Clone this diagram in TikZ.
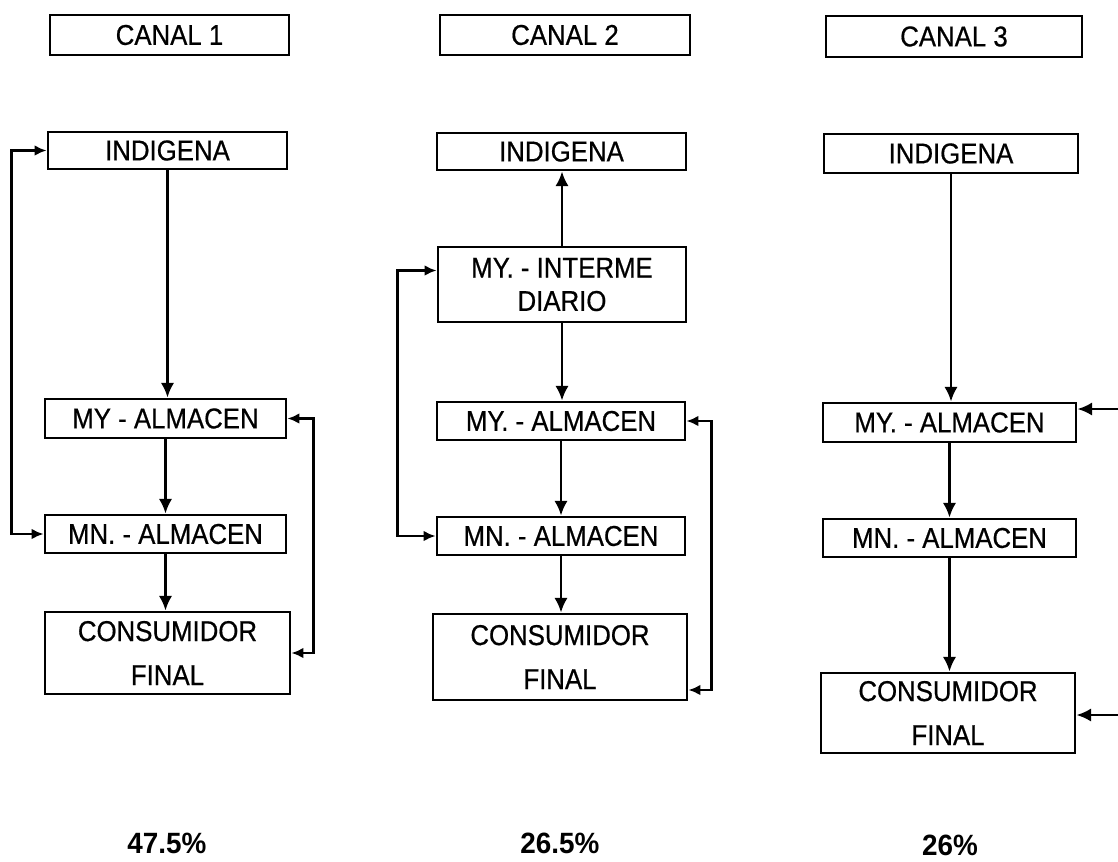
\documentclass[tikz,border=0pt]{standalone}
\usepackage{fontspec}
\setmainfont{Liberation Sans}[FakeStretch=0.9,FakeBold=0.6]
\newfontfamily\pctfont{Liberation Sans}[FakeStretch=0.95]
\usetikzlibrary{arrows.meta,calc}

\tikzset{every picture/.style={line width=2.1pt}}
\tikzset{
  box/.style={draw, inner sep=0pt, align=center, font=\fontsize{21.5}{25}\selectfont},
  arr/.style={-{Latex[length=11pt,width=10pt]}},
  dbl/.style={{Latex[length=9pt,width=8pt]}-{Latex[length=9pt,width=8pt]}},
  pct/.style={font=\pctfont\fontsize{22}{26}\selectfont\bfseries}
}

\begin{document}
\begin{tikzpicture}[x=0.75pt,y=0.75pt,yscale=-1,xscale=1]
        \useasboundingbox (0,0) rectangle (1118,861);

        %Shape: Rectangle [canal titles]
        \node [box, minimum width=179.25pt, minimum height=30pt] (tit1) at (169.5,35) {CANAL 1};
        \node [box, minimum width=187.5pt, minimum height=30pt] (tit2) at (565,35) {CANAL 2};
        \node [box, minimum width=192pt, minimum height=30.75pt] (tit3) at (954,36.5) {CANAL 3};

        %Shape: Rectangle [canal 1]
        \node [box, minimum width=179.25pt, minimum height=27.75pt] (ind1) at (167.5,150.5) {INDIGENA};
        \node [box, minimum width=180.75pt, minimum height=29.25pt] (mya1) at (165.5,418.5) {MY - ALMACEN};
        \node [box, minimum width=180.75pt, minimum height=28.5pt] (mna1) at (165.5,534) {MN. - ALMACEN};
        \node [box, minimum width=183.75pt, minimum height=61.5pt] (con1) at (167.5,653) {CONSUMIDOR\\[8pt]FINAL};

        %Shape: Rectangle [canal 2]
        \node [box, minimum width=186.75pt, minimum height=27.75pt] (ind2) at (561.5,151.5) {INDIGENA};
        \node [box, minimum width=186pt, minimum height=56.25pt] (int2) at (562,284.5) {MY. - INTERME\\DIARIO};
        \node [box, minimum width=186pt, minimum height=28.5pt] (mya2) at (561,421) {MY. - ALMACEN};
        \node [box, minimum width=186pt, minimum height=28.5pt] (mna2) at (561,536) {MN. - ALMACEN};
        \node [box, minimum width=190.5pt, minimum height=64.5pt] (con2) at (560,657) {CONSUMIDOR\\[8pt]FINAL};

        %Shape: Rectangle [canal 3]
        \node [box, minimum width=190.5pt, minimum height=29.25pt] (ind3) at (951,153.5) {INDIGENA};
        \node [box, minimum width=189.75pt, minimum height=29.25pt] (mya3) at (949.5,422.5) {MY. - ALMACEN};
        \node [box, minimum width=189.75pt, minimum height=28.5pt] (mna3) at (949.5,538) {MN. - ALMACEN};
        \node [box, minimum width=190.5pt, minimum height=60pt] (con3) at (948,713) {CONSUMIDOR\\[8pt]FINAL};

        %Straight Lines [canal 1]
        \draw [arr] (ind1) -- (ind1 |- mya1.north);
        \draw [arr] (mya1) -- (mna1);
        \draw [arr] (mna1) -- (mna1 |- con1.north);
        \draw [dbl] (ind1.west) -- ++(-35,0) |- (mna1.west);
        \draw [dbl] (mya1.east) -- ++(26,0) |- (con1.east);

        %Straight Lines [canal 2]
        \draw [arr] (int2) -- (int2 |- ind2.south);
        \draw [arr] (int2) -- (int2 |- mya2.north);
        \draw [arr] (mya2) -- (mna2);
        \draw [arr] (mna2) -- (mna2 |- con2.north);
        \draw [dbl] ($(int2.west)+(0,-14)$) -- ++(-39,0) |- (mna2.west);
        \draw [dbl] (mya2.east) -- ++(25,0) |- ($(con2.east)+(0,33)$);

        %Straight Lines [canal 3]
        \coordinate (r3a) at (1118,409);
        \coordinate (r3b) at (1118,715);
        \draw [arr] (ind3) -- (ind3 |- mya3.north);
        \draw [arr] (mya3) -- (mna3);
        \draw [arr] (mna3) -- (mna3 |- con3.north);
        \draw [arr] (r3a) -- (r3a -| mya3.east);
        \draw [arr] (r3b) -- (r3b -| con3.east);

        % Text Node
        \node [pct] (p1) at (167,843) {47.5\%};
        % Text Node
        \node [pct] (p2) at (560,843) {26.5\%};
        % Text Node
        \node [pct] (p3) at (950,845) {26\%};

    \end{tikzpicture}
\end{document}
